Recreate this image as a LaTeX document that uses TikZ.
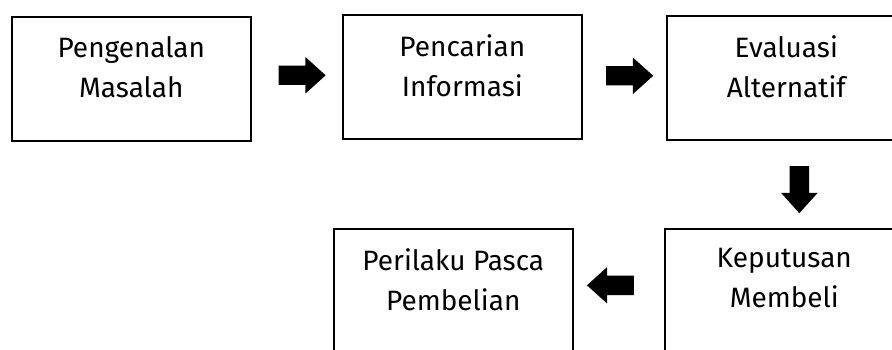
\documentclass[tikz,border=0pt]{standalone}
\usepackage{fontspec}
\setmainfont{Fira Sans}
\usetikzlibrary{positioning, shapes.arrows, calc}

\begin{document}
\begin{tikzpicture}[x=1pt, y=-1pt,
    stage/.style={draw, line width=1.6pt, minimum width=239pt, minimum height=124pt, inner sep=0pt, anchor=north west},
    stagetext/.style={align=center, inner sep=0pt, font=\fontsize{28}{40}\selectfont},
    blockarrow/.style={single arrow, fill=black, draw=none, inner sep=9.5pt, minimum height=47pt,
      single arrow head extend=8.5pt, single arrow tip angle=84}]
    \useasboundingbox (0,0) rectangle (892,350);
    \clip (0,0) rectangle (892,350);
    % top row
    \node[stage] (masalah) at (11,16) {};
    \node[stage] (informasi) at (342,14) {};
    \node[stage] (evaluasi) at (666,15) {};
    % bottom row
    \node[stage] (perilaku) at (333,228) {};
    \node[stage] (keputusan) at (664,228) {};
    % labels
    \node[stagetext, below=20pt of masalah.north] (masalahT) {Pengenalan\\Masalah};
    \node[stagetext, below=20pt of informasi.north] (informasiT) {Pencarian\\Informasi};
    \node[stagetext, below=20pt of evaluasi.north] (evaluasiT) {Evaluasi\\Alternatif};
    \node[stagetext, below=20pt of perilaku.north] (perilakuT) {Perilaku Pasca\\Pembelian};
    \node[stagetext, below=20pt of keputusan.north] (keputusanT) {Keputusan\\Membeli};
    % arrows
    \node[blockarrow, yshift=2.5pt] (a1) at ($(masalah.east)!.5!(informasi.west)$) {};
    \node[blockarrow, yshift=1.5pt] (a2) at ($(informasi.east)!.5!(evaluasi.west)$) {};
    \node[blockarrow, shape border rotate=270, xshift=14pt] (a3) at ($(evaluasi.south)!.5!(keputusan.north)$) {};
    \node[blockarrow, shape border rotate=180, xshift=-3pt, yshift=5.5pt] (a4) at ($(keputusan.west)!.5!(perilaku.east)$) {};
\end{tikzpicture}
\end{document}
